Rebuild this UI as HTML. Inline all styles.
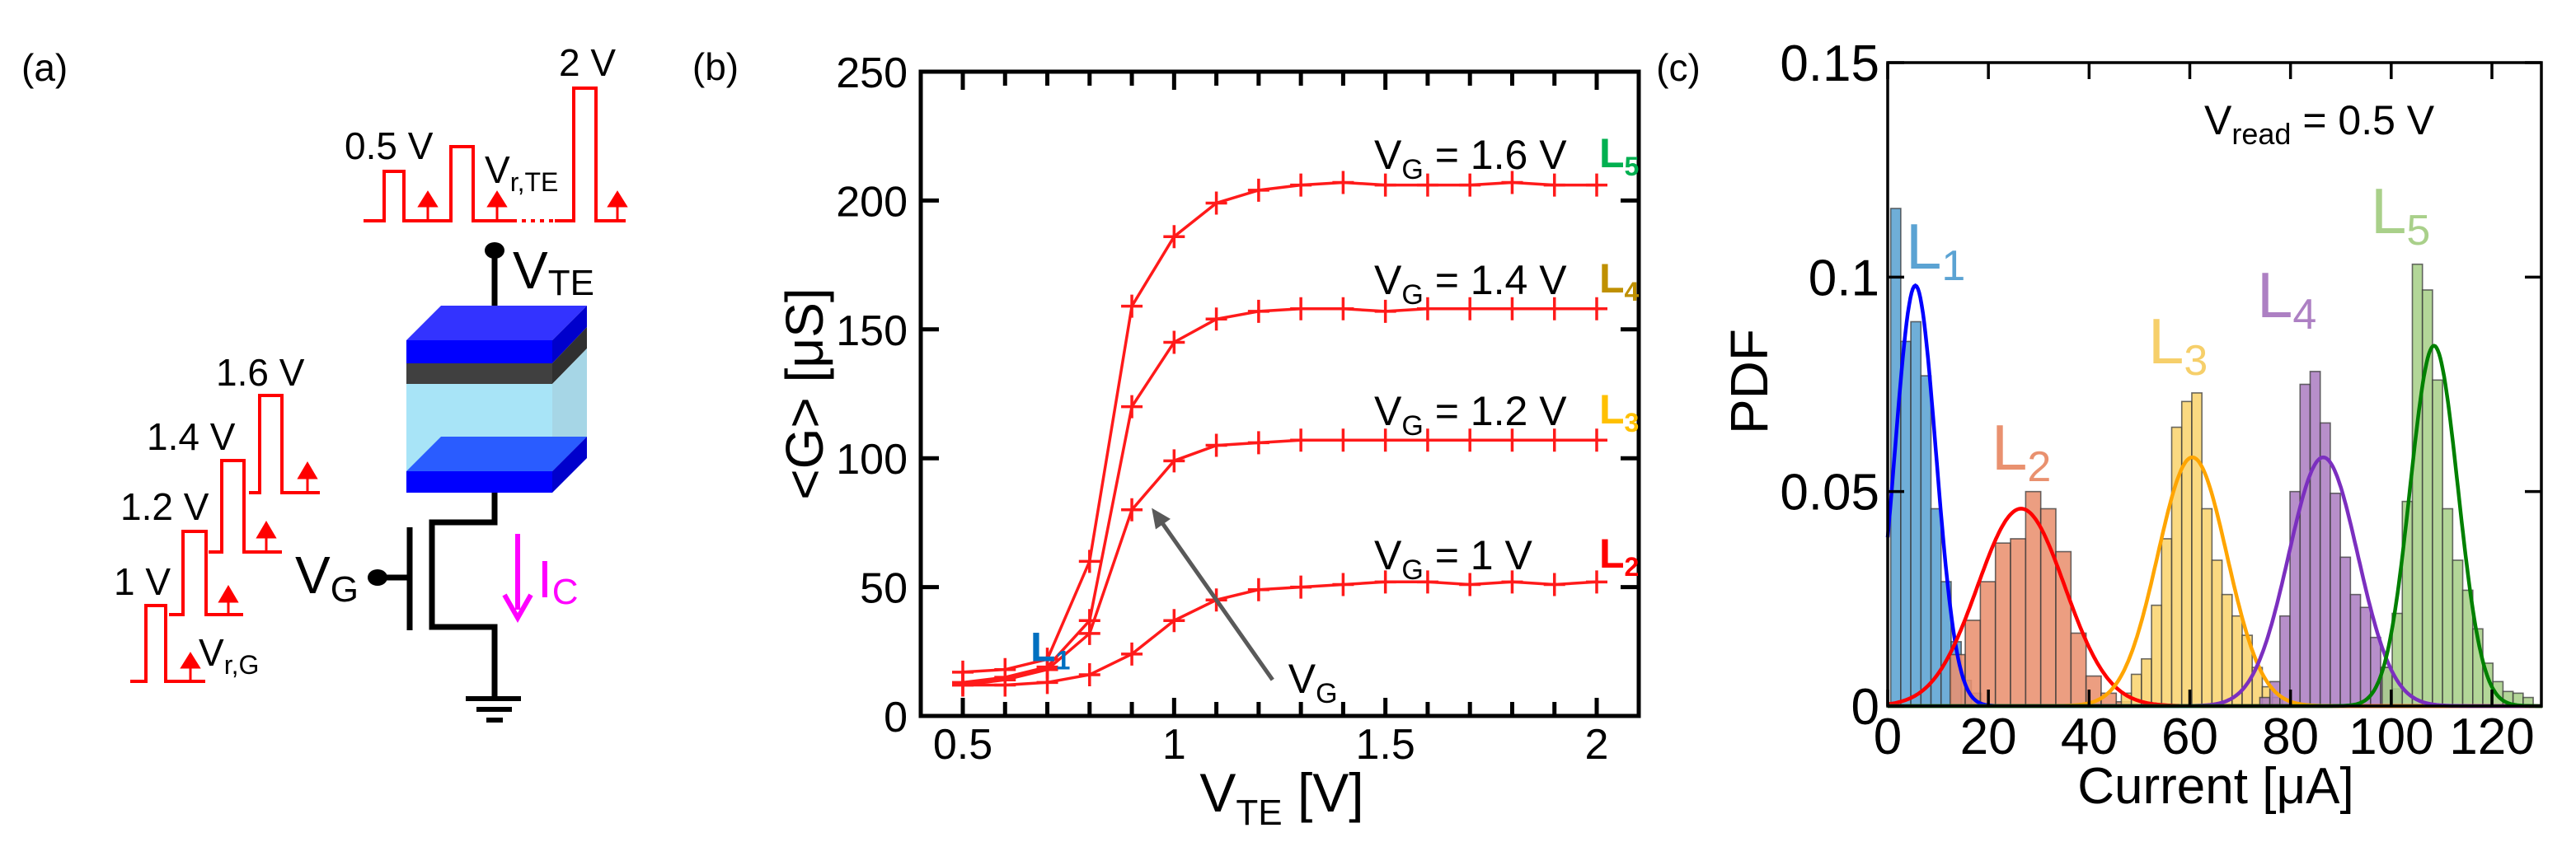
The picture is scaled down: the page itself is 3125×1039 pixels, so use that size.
<!DOCTYPE html>
<html><head><meta charset="utf-8"><style>
html,body{margin:0;padding:0;background:#fff;}
svg{display:block;font-family:"Liberation Sans",sans-serif;}
</style></head><body>
<svg id="fig" width="3125" height="1039" viewBox="0 0 3125 1039" xmlns="http://www.w3.org/2000/svg">
<!-- Panel (a) -->
<g id="pa" fill="none">
  <text x="26" y="98" font-size="46" fill="#000">(a)</text>
  <path d="M441 268 H466 V208 H490 V268 H547 V178 H574 V268 H622" stroke="#ff0000" stroke-width="4"/>
  <path d="M622 268 H673" stroke="#ff0000" stroke-width="4" stroke-dasharray="5 6"/>
  <path d="M673 268 H696 V107 H723 V268 H759" stroke="#ff0000" stroke-width="4"/>
  <g fill="#ff0000" stroke="#ff0000" stroke-width="3">
    <path d="M519 268 V248"/><path d="M509 250 L519 234 L529 250 Z"/>
    <path d="M603 268 V248"/><path d="M593 250 L603 234 L613 250 Z"/>
    <path d="M749 268 V248"/><path d="M739 250 L749 234 L759 250 Z"/>
  </g>
  <text x="418" y="193" font-size="46" fill="#000">0.5 V</text>
  <text x="588" y="222" font-size="46" fill="#000">V<tspan font-size="32" dy="10">r,TE</tspan></text>
  <text x="678" y="92" font-size="46" fill="#000">2 V</text>
  <line x1="600" y1="304" x2="600" y2="392" stroke="#000" stroke-width="7"/>
  <ellipse cx="600" cy="304" rx="12" ry="10" fill="#000"/>
  <text x="622" y="350" font-size="64" fill="#000">V<tspan font-size="44" dy="8">TE</tspan></text>
  <g>
    <polygon points="493,413 670,413 712,371 535,371" fill="#3333ff"/>
    <polygon points="670,413 712,371 712,397 670,441" fill="#0000cc"/>
    <polygon points="670,441 712,397 712,423 670,466" fill="#303030"/>
    <polygon points="670,466 712,423 712,530 670,572" fill="#a6d6e6"/>
    <rect x="493" y="413" width="177" height="28" fill="#0000ff"/>
    <rect x="493" y="441" width="177" height="25" fill="#404040"/>
    <rect x="493" y="466" width="177" height="106" fill="#a8e4f7"/>
    <polygon points="493,572 670,572 712,530 535,530" fill="#2a5cff"/>
    <polygon points="670,572 712,530 712,556 670,598" fill="#0000cc"/>
    <rect x="493" y="572" width="177" height="26" fill="#0000ff"/>
  </g>
  <path d="M600 598 V634 H524 V761 H600 V848" stroke="#000" stroke-width="7"/>
  <line x1="497" y1="640" x2="497" y2="765" stroke="#000" stroke-width="7"/>
  <line x1="458" y1="701" x2="497" y2="701" stroke="#000" stroke-width="7"/>
  <ellipse cx="458" cy="701" rx="12" ry="10" fill="#000"/>
  <text x="358" y="720" font-size="64" fill="#000">V<tspan font-size="44" dy="10">G</tspan></text>
  <g stroke="#000" stroke-width="6">
    <line x1="565" y1="848" x2="632" y2="848"/><line x1="578" y1="861" x2="621" y2="861"/><line x1="590" y1="874" x2="610" y2="874"/>
  </g>
  <g>
    <line x1="628" y1="648" x2="628" y2="740" stroke="#ff00ff" stroke-width="6"/>
    <path d="M612 722 L628 750 L644 722" stroke="#ff00ff" stroke-width="6"/>
    <text x="652" y="725" font-size="64" fill="#ff00ff">I<tspan font-size="44" dy="8">C</tspan></text>
  </g>
  <g stroke="#ff0000" stroke-width="4">
    <path d="M158 827 H177 V735 H201 V827 H249"/>
    <path d="M205 746 H222 V645 H250 V746 H295"/>
    <path d="M253 670 H269 V559 H296 V670 H342"/>
    <path d="M302 598 H315 V480 H342 V598 H388"/>
  </g>
  <g fill="#ff0000" stroke="#ff0000" stroke-width="3">
    <path d="M231 827 V808"/><path d="M221 810 L231 794 L241 810 Z"/>
    <path d="M277 746 V728"/><path d="M267 730 L277 713 L287 730 Z"/>
    <path d="M323 670 V650"/><path d="M313 652 L323 635 L333 652 Z"/>
    <path d="M373 598 V578"/><path d="M363 580 L373 563 L383 580 Z"/>
  </g>
  <text x="138" y="722" font-size="46" fill="#000">1 V</text>
  <text x="146" y="631" font-size="46" fill="#000">1.2 V</text>
  <text x="178" y="546" font-size="46" fill="#000">1.4 V</text>
  <text x="262" y="468" font-size="46" fill="#000">1.6 V</text>
  <text x="241" y="808" font-size="46" fill="#000">V<tspan font-size="32" dy="10">r,G</tspan></text>
</g>
<g id="pb"></g>
<g id="pc"></g>
</svg>
<script>
// ---------- Panel (b) data ----------
const vteValues = [0.5,0.6,0.7,0.8,0.9,1.0,1.1,1.2,1.3,1.4,1.5,1.6,1.7,1.8,1.9,2.0];
const gVg16 = [17,18,22,60,159,186,199,204,206,207,206,206,206,207,206,206];
const gVg14 = [13,15,19,37,120,145,154,157,158,158,157,158,158,158,158,158];
const gVg12 = [12,14,18,32,80,99,105,106,107,107,107,107,107,107,107,107];
const gVg10 = [12,12,13,16,24,37,45,49,50,51,52,52,51,52,51,52];
const bXTicks = [0.5,1,1.5,2];
const bXTickLabels = ["0.5","1","1.5","2"];
const bYTicks = [0,50,100,150,200,250];
const bYTickLabels = ["0","50","100","150","200","250"];
const bSeriesLabels = ["V_G = 1.6 V","V_G = 1.4 V","V_G = 1.2 V","V_G = 1 V"];
const bLevelNames = ["5","4","3","2"];

// ---------- Panel (c) data ----------
const cXTicks = [0,20,40,60,80,100,120];
const cXTickLabels = ["0","20","40","60","80","100","120"];
const cYTicks = [0,0.05,0.1,0.15];
const cYTickLabels = ["0","0.05","0.1","0.15"];
const histStarts = [0.6,12.4,46.4,73.9,98.2];
const histWidths = [2,3,2,2,2];
const histL1 = [0.116,0.085,0.0896,0.077,0.046,0.029,0.015,0.006,0.003];
const histL2 = [0.012,0.020,0.029,0.038,0.039,0.050,0.046,0.036,0.017,0.007,0.003,0.001];
const histL3 = [0.003,0.0074,0.011,0.0235,0.039,0.065,0.071,0.073,0.046,0.034,0.026,0.021,0.0165,0.009,0.0045,0.002];
const histL4 = [0.002,0.0057,0.021,0.050,0.075,0.078,0.066,0.0496,0.0347,0.026,0.023,0.016,0.009,0.004];
const histL5 = [0.009,0.0216,0.0477,0.103,0.097,0.076,0.046,0.034,0.027,0.018,0.010,0.0057,0.0034,0.003,0.002];
const fitMeans = [5.5,26.5,60.5,86.5,108.5];
const fitSigmas = [4.07,8.67,6.88,6.88,4.75];

const NS = "http://www.w3.org/2000/svg";
function mk(parent, tag, attrs, text){
  const e = document.createElementNS(NS, tag);
  for (const k in attrs) e.setAttribute(k, attrs[k]);
  if (text !== undefined) e.textContent = text;
  parent.appendChild(e);
  return e;
}

// ===== Panel B =====
(function(){
  const g = document.getElementById('pb');
  const L=1117,R=1988,T=87,B=869;
  const ymin=0, ymax=250;
  const xs = v => 1168 + (v-0.5)*(1937-1168)/1.5;
  const ys = v => B - (v-ymin)*(B-T)/(ymax-ymin);
  const lbl = mk(g,'text',{x:868,y:97,'font-size':46,'text-anchor':'middle'},'(b)');
  
  
  for (let i=0;i<=15;i++){
    const v = 0.5+i*0.1;
    const major = Math.abs((v*2)-Math.round(v*2))<1e-6;
    const len = major?22:17;
    const x = xs(v);
    const t1 = mk(g,'line',{x1:x,y1:B,x2:x,y2:B-len,stroke:'#000','stroke-width':5});
    
    
    const t2 = mk(g,'line',{x1:x,y1:T,x2:x,y2:T+len,stroke:'#000','stroke-width':5});
    
    
  }
  bXTicks.forEach((v,i)=>{
    const t = mk(g,'text',{x:xs(v),y:921,'font-size':52,'text-anchor':'middle'},bXTickLabels[i]);
    
    
  });
  bYTicks.forEach((v,i)=>{
    const y=ys(v);
    const a = mk(g,'line',{x1:L,y1:y,x2:L+22,y2:y,stroke:'#000','stroke-width':5});
    
    
    const b = mk(g,'line',{x1:R,y1:y,x2:R-22,y2:y,stroke:'#000','stroke-width':5});
    
    
    const t = mk(g,'text',{x:1101,y:y+19,'font-size':52,'text-anchor':'end'},bYTickLabels[i]);
    
    
  });
  const frame = mk(g,'rect',{x:L,y:T,width:R-L,height:B-T,fill:'none',stroke:'#000','stroke-width':5});
  
  
  const series=[gVg16,gVg14,gVg12,gVg10];
  const names=['series-vg-1-6','series-vg-1-4','series-vg-1-2','series-vg-1-0'];
  series.forEach((arr,si)=>{
    const sg = mk(g,'g',{});
    
    
    const d = arr.map((v,i)=>(i?'L':'M')+xs(vteValues[i]).toFixed(1)+' '+ys(v).toFixed(1)).join(' ');
    const p = mk(sg,'path',{d:d,fill:'none',stroke:'#ff1a1a','stroke-width':3.5});
    
    
    arr.forEach((v,i)=>{
      const x=xs(vteValues[i]), y=ys(v);
      const m = mk(sg,'path',{d:`M${x-13} ${y} H${x+13} M${x} ${y-14} V${y+14}`,stroke:'#ff1a1a','stroke-width':3.5});
      
      
    });
  });
  const lblY=[187,339,498,673];
  const lblColors=['#00b050','#bf9000','#ffc000','#ff0000'];
  bSeriesLabels.forEach((s,i)=>{
    const t = mk(g,'text',{x:1667,y:lblY[i]+18,'font-size':50});
    
    
    const val = s.split('= ')[1];
    t.innerHTML = 'V<tspan font-size="34" dy="12">G</tspan><tspan dy="-12"> = '+val+'</tspan>';
    const l = mk(g,'text',{x:1940,y:lblY[i]+16,'font-size':50,'font-weight':'bold',fill:lblColors[i]});
    
    
    l.innerHTML = 'L<tspan font-size="32" dy="10">'+bLevelNames[i]+'</tspan>';
  });
  const l1 = mk(g,'text',{x:xs(0.66),y:ys(27)+18,'font-size':50,'font-weight':'bold',fill:'#0070c0'});
  
  
  l1.innerHTML='L<tspan font-size="32" dy="10">1</tspan>';
  const ag = mk(g,'g',{});
  
  
  const ax1=xs(1.233), ay1=ys(14), ax2=xs(0.947), ay2=ys(80.7);
  const ang=Math.atan2(ay2-ay1,ax2-ax1);
  mk(ag,'line',{x1:ax1,y1:ay1,x2:ax2-Math.cos(ang)*14,y2:ay2-Math.sin(ang)*14,stroke:'#595959','stroke-width':5});
  const hl=24, hw=11;
  const bx=ax2-Math.cos(ang)*hl, by=ay2-Math.sin(ang)*hl;
  mk(ag,'polygon',{points:`${ax2},${ay2} ${bx+Math.sin(ang)*hw},${by-Math.cos(ang)*hw} ${bx-Math.sin(ang)*hw},${by+Math.cos(ang)*hw}`,fill:'#595959'});
  const vgl = mk(g,'text',{x:xs(1.27),y:ys(14)+16,'font-size':50});
  
  
  vgl.innerHTML='V<tspan font-size="34" dy="12">G</tspan>';
  const yl = mk(g,'text',{x:0,y:0,'font-size':64,'text-anchor':'middle',transform:'translate(998,478) rotate(-90)'},'<G> [\u03bcS]');
  
  
  const xl = mk(g,'text',{x:1555,y:985,'font-size':66,'text-anchor':'middle'});
  
  
  xl.innerHTML='V<tspan font-size="44" dy="16">TE</tspan><tspan dy="-16"> [V]</tspan>';
})();

// ===== Panel C =====
(function(){
  const g = document.getElementById('pc');
  const L=2290,R=3083,T=76,B=857;
  const xs = v => L + v*(3023-L)/120;
  const ys = v => B - v*(B-T)/0.15;
  const lbl = mk(g,'text',{x:2036,y:98,'font-size':46,'text-anchor':'middle'},'(c)');
  
  
  const hists=[histL1,histL2,histL3,histL4,histL5];
  const fills=['#5ba3d3','#e9916f','#f9d46f','#ad80c3','#a9d08a'];
  hists.forEach((arr,hi)=>{
    const hg = mk(g,'g',{});
    
    
    arr.forEach((v,i)=>{
      const x0=histStarts[hi]+i*histWidths[hi];
      const x1=x0+histWidths[hi];
      const r = mk(hg,'rect',{x:xs(x0),y:ys(v),width:xs(x1)-xs(x0),height:B-ys(v),fill:fills[hi],'fill-opacity':0.88,stroke:'#3a3a3a','stroke-opacity':0.75,'stroke-width':1.6});
      
      
    });
  });
  const curveColors=['#0000ff','#ff0000','#ffa500','#7b2fbf','#008000'];
  fitMeans.forEach((mu,ci)=>{
    const s=fitSigmas[ci];
    let d='';
    for (let k=0;k<=520;k++){
      const x=k*0.25;
      const y=Math.exp(-0.5*((x-mu)/s)**2)/(s*Math.sqrt(2*Math.PI));
      d+=(k?'L':'M')+xs(x).toFixed(1)+' '+ys(y).toFixed(1)+' ';
    }
    const p = mk(g,'path',{d:d,fill:'none',stroke:curveColors[ci],'stroke-width':4.5});
    
    
  });
  cXTicks.forEach((v,i)=>{
    const x=xs(v);
    const a = mk(g,'line',{x1:x,y1:B,x2:x,y2:B-20,stroke:'#000','stroke-width':3.5});
    
    
    const b = mk(g,'line',{x1:x,y1:T,x2:x,y2:T+20,stroke:'#000','stroke-width':3.5});
    
    
    const t = mk(g,'text',{x:x,y:915,'font-size':62,'text-anchor':'middle'},cXTickLabels[i]);
    
    
  });
  cYTicks.forEach((v,i)=>{
    const y=ys(v);
    const a = mk(g,'line',{x1:L,y1:y,x2:L+20,y2:y,stroke:'#000','stroke-width':3.5});
    
    
    const b = mk(g,'line',{x1:R,y1:y,x2:R-20,y2:y,stroke:'#000','stroke-width':3.5});
    
    
    const t = mk(g,'text',{x:2280,y:y+22,'font-size':62,'text-anchor':'end'},cYTickLabels[i]);
    
    
  });
  const frame = mk(g,'rect',{x:L,y:T,width:R-L,height:B-T,fill:'none',stroke:'#000','stroke-width':3.5});
  
  
  const vr = mk(g,'text',{x:2674,y:163,'font-size':50});
  
  
  vr.innerHTML='V<tspan font-size="36" dy="12">read</tspan><tspan dy="-12"> = 0.5 V</tspan>';
  const lx=[2312,2416,2606,2738,2876], ly=[326,570,441,385,283];
  const lc=['#5ba3d3','#e9916f','#f6cf6a','#ad80c3','#a9d08a'];
  lx.forEach((x,i)=>{
    const t = mk(g,'text',{x:x,y:ly[i],'font-size':78,fill:lc[i]});
    
    
    t.innerHTML='L<tspan font-size="52" dy="14">'+(i+1)+'</tspan>';
  });
  const yl = mk(g,'text',{x:0,y:0,'font-size':64,'text-anchor':'middle',transform:'translate(2144,463) rotate(-90)'},'PDF');
  
  
  const xl = mk(g,'text',{x:2688,y:975,'font-size':62,'text-anchor':'middle'},'Current [\u03bcA]');
  
  
})();
</script>
</body></html>
